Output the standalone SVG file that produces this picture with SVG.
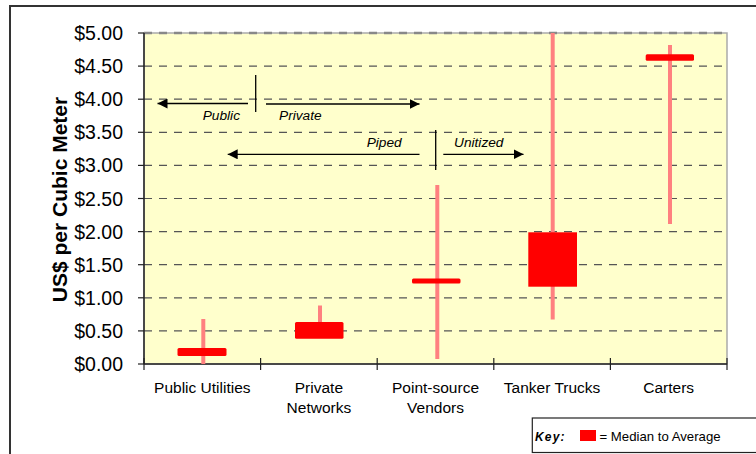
<svg xmlns="http://www.w3.org/2000/svg" width="756" height="454" viewBox="0 0 756 454">
<style>
.grid{stroke:#555;stroke-width:1.2;stroke-dasharray:8,7;fill:none}
.axis{stroke:#222;stroke-width:1.5;fill:none}
.tick{stroke:#222;stroke-width:1.2}
.ylab{font-family:"Liberation Sans",Arial,sans-serif;font-size:19.5px;fill:#000;text-anchor:end}
.xlab{font-family:"Liberation Sans",Arial,sans-serif;font-size:15.5px;fill:#000;text-anchor:middle}
.note{font-family:"Liberation Sans",Arial,sans-serif;font-size:13.7px;font-style:italic;fill:#000}
.whisk{stroke:#ff8080;stroke-width:4}
.box{fill:#ff0000}
.arr{stroke:#000;stroke-width:1.3;fill:none}
</style>
<defs>
<marker id="ah" viewBox="0 0 10 10" refX="10" refY="5" markerWidth="10" markerHeight="10" markerUnits="userSpaceOnUse" orient="auto">
<path d="M0,0 L10,5 L0,10 Z" fill="#000"/>
</marker>
</defs>
<rect width="756" height="454" fill="#fff"/>
<!-- outer frame -->
<path d="M10,454 L10,6 L756,6" fill="none" stroke="#333" stroke-width="2"/>
<!-- plot area -->
<rect x="144" y="33" width="583" height="331" fill="#ffffcc" stroke="#aaa" stroke-width="1.5"/>
<g id="grid">
<line class="grid" x1="144" y1="33" x2="727" y2="33" style="stroke:#888;stroke-width:2.5"/>
<line class="grid" x1="144" y1="66.1" x2="727" y2="66.1"/>
<line class="grid" x1="144" y1="99.2" x2="727" y2="99.2"/>
<line class="grid" x1="144" y1="132.3" x2="727" y2="132.3"/>
<line class="grid" x1="144" y1="165.4" x2="727" y2="165.4"/>
<line class="grid" x1="144" y1="198.5" x2="727" y2="198.5"/>
<line class="grid" x1="144" y1="231.6" x2="727" y2="231.6"/>
<line class="grid" x1="144" y1="264.7" x2="727" y2="264.7"/>
<line class="grid" x1="144" y1="297.8" x2="727" y2="297.8"/>
<line class="grid" x1="144" y1="330.9" x2="727" y2="330.9"/>
</g>
<g id="axes">
<line class="axis" x1="144" y1="33" x2="144" y2="364"/>
<line class="axis" x1="144" y1="364" x2="727" y2="364"/>
<line class="tick" x1="138" y1="33" x2="144" y2="33"/>
<line class="tick" x1="138" y1="66.1" x2="144" y2="66.1"/>
<line class="tick" x1="138" y1="99.2" x2="144" y2="99.2"/>
<line class="tick" x1="138" y1="132.3" x2="144" y2="132.3"/>
<line class="tick" x1="138" y1="165.4" x2="144" y2="165.4"/>
<line class="tick" x1="138" y1="198.5" x2="144" y2="198.5"/>
<line class="tick" x1="138" y1="231.6" x2="144" y2="231.6"/>
<line class="tick" x1="138" y1="264.7" x2="144" y2="264.7"/>
<line class="tick" x1="138" y1="297.8" x2="144" y2="297.8"/>
<line class="tick" x1="138" y1="330.9" x2="144" y2="330.9"/>
<line class="tick" x1="138" y1="364" x2="144" y2="364"/>
<line class="tick" x1="144" y1="358" x2="144" y2="370"/>
<line class="tick" x1="260.6" y1="358" x2="260.6" y2="370"/>
<line class="tick" x1="377.2" y1="358" x2="377.2" y2="370"/>
<line class="tick" x1="493.8" y1="358" x2="493.8" y2="370"/>
<line class="tick" x1="610.4" y1="358" x2="610.4" y2="370"/>
<line class="tick" x1="727" y1="358" x2="727" y2="370"/>
</g>
<g id="ylabels">
<text class="ylab" x="123" y="40">$5.00</text>
<text class="ylab" x="123" y="73">$4.50</text>
<text class="ylab" x="123" y="106">$4.00</text>
<text class="ylab" x="123" y="139">$3.50</text>
<text class="ylab" x="123" y="172">$3.00</text>
<text class="ylab" x="123" y="205.5">$2.50</text>
<text class="ylab" x="123" y="238.5">$2.00</text>
<text class="ylab" x="123" y="271.5">$1.50</text>
<text class="ylab" x="123" y="304.5">$1.00</text>
<text class="ylab" x="123" y="337.5">$0.50</text>
<text class="ylab" x="123" y="371">$0.00</text>
</g>
<text id="ytitle" transform="translate(67,199.5) rotate(-90)" font-family="Liberation Sans,Arial,sans-serif" font-size="21" font-weight="bold" text-anchor="middle">US$ per Cubic Meter</text>
<g id="xlabels">
<text class="xlab" x="202.3" y="393">Public Utilities</text>
<text class="xlab" x="318.9" y="393">Private</text>
<text class="xlab" x="318.9" y="413">Networks</text>
<text class="xlab" x="435.5" y="393">Point-source</text>
<text class="xlab" x="435.5" y="413">Vendors</text>
<text class="xlab" x="552.1" y="393">Tanker Trucks</text>
<text class="xlab" x="668.7" y="393">Carters</text>
</g>
<g id="public-utilities">
<line class="whisk" x1="203.3" y1="319" x2="203.3" y2="364"/>
<rect class="box" x="177.5" y="348" width="49" height="8" rx="1.5"/>
</g>
<g id="private-networks">
<line class="whisk" x1="320" y1="305.5" x2="320" y2="323"/>
<rect class="box" x="295" y="322" width="48.5" height="16.7" rx="1.5"/>
</g>
<g id="point-source-vendors">
<line class="whisk" x1="437.3" y1="185" x2="437.3" y2="359"/>
<rect class="box" x="412" y="278.5" width="48.5" height="5" rx="1.5"/>
</g>
<g id="tanker-trucks">
<line class="whisk" x1="552.7" y1="33" x2="552.7" y2="319.5"/>
<rect class="box" x="528.3" y="232.3" width="48.7" height="54.4"/>
</g>
<g id="carters">
<line class="whisk" x1="670" y1="45" x2="670" y2="224"/>
<rect class="box" x="645.7" y="54.3" width="48.3" height="6.4" rx="1.5"/>
</g>
<g id="connectors">
<line class="arr" x1="248" y1="103.5" x2="157.5" y2="103.5" marker-end="url(#ah)"/>
<line class="arr" x1="255.7" y1="75" x2="255.7" y2="112"/>
<line class="arr" x1="266" y1="104" x2="419.5" y2="104" marker-end="url(#ah)"/>
<line class="arr" x1="419.5" y1="154.3" x2="227.7" y2="154.3" marker-end="url(#ah)"/>
<line class="arr" x1="435.7" y1="130" x2="435.7" y2="170"/>
<line class="arr" x1="443.3" y1="154.3" x2="523.5" y2="154.3" marker-end="url(#ah)"/>
</g>
<g id="notes">
<text class="note" x="240" y="119.5" text-anchor="end">Public</text>
<text class="note" x="279" y="119.5">Private</text>
<text class="note" x="401.7" y="147" text-anchor="end">Piped</text>
<text class="note" x="454" y="147">Unitized</text>
</g>
<g id="key">
<rect x="532.3" y="418" width="230" height="34.5" fill="#fff" stroke="#222" stroke-width="1.2"/>
<text x="535" y="441" font-family="Liberation Sans,Arial,sans-serif" font-size="12" font-weight="bold" font-style="italic" letter-spacing="1.2">Key:</text>
<rect x="580" y="430" width="16" height="11" fill="#ff0000"/>
<text x="599.5" y="440.7" font-family="Liberation Sans,Arial,sans-serif" font-size="13.2">= Median to Average</text>
</g>
</svg>
